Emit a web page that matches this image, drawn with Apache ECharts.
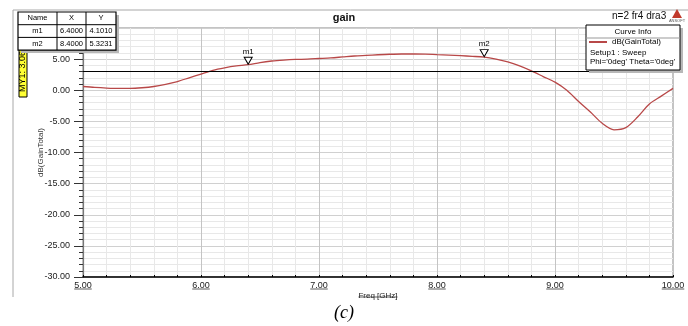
<!DOCTYPE html>
<html>
<head>
<meta charset="utf-8">
<script src="https://cdn.jsdelivr.net/npm/echarts@6/dist/echarts.min.js"></script>
<style>html,body{margin:0;padding:0;background:#fff}#main{width:688px;height:326px}</style>
</head>
<body>
<div id="main"></div>
<script>
// frequency sweep (GHz) and dB(GainTotal)
var freq = [5.0, 5.1, 5.2, 5.3, 5.4, 5.5, 5.6, 5.7, 5.8, 5.9,
            6.0, 6.1, 6.2, 6.3, 6.4, 6.5, 6.6, 6.7, 6.8, 6.9,
            7.0, 7.1, 7.2, 7.3, 7.4, 7.5, 7.6, 7.7, 7.8, 7.9,
            8.0, 8.1, 8.2, 8.3, 8.4, 8.5, 8.6, 8.7, 8.8, 8.9,
            9.0, 9.1, 9.2, 9.3, 9.4, 9.5, 9.6, 9.7, 9.8, 9.9, 10.0];
var gain = [0.6, 0.45, 0.35, 0.3, 0.3, 0.4, 0.6, 0.95, 1.4, 2.0,
            2.6, 3.2, 3.6, 3.9, 4.1, 4.45, 4.7, 4.85, 4.95, 5.0,
            5.1, 5.2, 5.35, 5.5, 5.6, 5.7, 5.78, 5.82, 5.82, 5.8,
            5.72, 5.65, 5.55, 5.45, 5.32, 5.0, 4.55, 3.9, 3.1, 2.2,
            1.3, 0.0, -1.8, -3.5, -5.3, -6.35, -6.0, -4.3, -2.2, -0.95, 0.3];

var markerNames = ['m1', 'm2'];
var markerX = [6.4, 8.4];
var markerY = [4.1010, 5.3231];
var myY1 = 3.064;
var xTicks = [5, 6, 7, 8, 9, 10];

var font = 'Liberation Sans, Arial, sans-serif';
var myChart = echarts.init(document.getElementById('main'));

var seriesData = freq.map(function (f, i) { return [f, gain[i]]; });
var markData = markerNames.map(function (n, i) {
  return { name: n, coord: [markerX[i], markerY[i]] };
});

// marker table (Name / X / Y)
var tbl = [];
var tx = 18, ty = 12, colW = [39, 29, 30], rowH = 12.7;
var tw = colW[0] + colW[1] + colW[2], th = rowH * 3;
tbl.push({ type: 'rect', z: 100, shape: { x: tx + 3, y: ty + 3, width: tw, height: th }, style: { fill: '#b8b8b8' } });
tbl.push({ type: 'rect', z: 101, shape: { x: tx, y: ty, width: tw, height: th }, style: { fill: '#fff', stroke: '#000', lineWidth: 1.2 } });
var rows = [['Name', 'X', 'Y']];
markerNames.forEach(function (n, i) { rows.push([n, markerX[i].toFixed(4), markerY[i].toFixed(4)]); });
rows.forEach(function (r, ri) {
  var cx = tx;
  r.forEach(function (c, ci) {
    tbl.push({ type: 'text', z: 102, x: cx + colW[ci] / 2, y: ty + rowH * ri + rowH / 2,
      style: { text: c, font: '7.5px ' + font, fill: '#000', align: 'center', verticalAlign: 'middle' } });
    cx += colW[ci];
  });
  if (ri > 0) tbl.push({ type: 'line', z: 102, shape: { x1: tx, y1: ty + rowH * ri, x2: tx + tw, y2: ty + rowH * ri }, style: { stroke: '#000', lineWidth: 1 } });
});
tbl.push({ type: 'line', z: 102, shape: { x1: tx + colW[0], y1: ty, x2: tx + colW[0], y2: ty + th }, style: { stroke: '#000' } });
tbl.push({ type: 'line', z: 102, shape: { x1: tx + colW[0] + colW[1], y1: ty, x2: tx + colW[0] + colW[1], y2: ty + th }, style: { stroke: '#000' } });

var graphics = [
  { type: 'line', shape: { x1: 13, y1: 10, x2: 688, y2: 10 }, style: { stroke: '#a8a8a8', lineWidth: 1 } },
  { type: 'line', shape: { x1: 13, y1: 10, x2: 13, y2: 297 }, style: { stroke: '#a8a8a8', lineWidth: 1 } },
  { type: 'text', x: 344, y: 18, style: { text: 'gain', font: 'bold 11px ' + font, fill: '#111', align: 'center', verticalAlign: 'middle' } },
  { type: 'text', x: 612, y: 16, style: { text: 'n=2 fr4 dra3', font: '10px ' + font, fill: '#111', verticalAlign: 'middle' } },
  { type: 'polygon', shape: { points: [[677, 9], [672, 18], [682, 18]] }, style: { fill: '#c0392b' } },
  { type: 'text', x: 677, y: 21, style: { text: 'ANSOFT', font: '4px ' + font, fill: '#555', align: 'center', verticalAlign: 'middle' } },
  // MY1 readout
  { type: 'rect', z: 50, shape: { x: 19, y: 42, width: 8, height: 55 }, style: { fill: '#ffff33', stroke: '#000', lineWidth: 1 } },
  { type: 'text', z: 51, x: 23, y: 69, rotation: Math.PI / 2,
    style: { text: 'MY1: 3.064', font: '9px ' + font, fill: '#000', align: 'center', verticalAlign: 'middle' } },
  { type: 'group', z: 100, children: tbl },
  // curve info box
  { type: 'rect', z: 60, shape: { x: 589, y: 28, width: 94, height: 45 }, style: { fill: '#b8b8b8' } },
  { type: 'rect', z: 61, shape: { x: 586, y: 25, width: 94, height: 45 }, style: { fill: '#fff', stroke: '#000', lineWidth: 1 } },
  { type: 'text', z: 62, x: 633, y: 32, style: { text: 'Curve Info', font: '8px ' + font, fill: '#000', align: 'center', verticalAlign: 'middle' } },
  { type: 'line', z: 62, shape: { x1: 586, y1: 38, x2: 680, y2: 38 }, style: { stroke: '#999' } },
  { type: 'text', z: 62, x: 590, y: 53, style: { text: 'Setup1 : Sweep', font: '8px ' + font, fill: '#000', verticalAlign: 'middle' } },
  { type: 'text', z: 62, x: 590, y: 62, style: { text: "Phi='0deg' Theta='0deg'", font: '8px ' + font, fill: '#000', verticalAlign: 'middle' } },
  { type: 'text', x: 344, y: 313, style: { text: '(c)', font: 'italic 18px Liberation Serif, Times New Roman, serif', fill: '#000', align: 'center', verticalAlign: 'middle' } }
];

var option = {
  animation: false,
  grid: { left: 83, right: 15, top: 28, bottom: 49, show: true, borderColor: '#888', borderWidth: 1 },
  legend: {
    data: ['dB(GainTotal)'], left: 589, top: 38, z: 70, selectedMode: false,
    icon: 'rect', itemWidth: 18, itemHeight: 2, padding: 0,
    textStyle: { fontFamily: font, fontSize: 8, color: '#000' }
  },
  graphic: graphics,
  xAxis: {
    type: 'value', min: 5, max: 10, interval: 1,
    name: 'Freq [GHz]', nameLocation: 'middle', nameGap: 15, nameMoveOverlap: false,
    nameTextStyle: { fontFamily: font, fontSize: 8, color: '#222' },
    axisLine: { onZero: false, lineStyle: { color: '#000', width: 1.5 } },
    axisTick: { show: true, inside: true, length: 2, lineStyle: { color: '#000' } },
    minorTick: { show: true, splitNumber: 5, length: 2, lineStyle: { color: '#000' } },
    axisLabel: { margin: 4, fontFamily: font, fontSize: 9, color: '#222',
      formatter: function (v) { return v.toFixed(2); } },
    splitLine: { lineStyle: { color: '#c4c4c4' } },
    minorSplitLine: { show: true, lineStyle: { color: '#e8e8e8' } }
  },
  yAxis: {
    type: 'value', min: -30, max: 10, interval: 5,
    name: 'dB(GainTotal)', nameLocation: 'middle', nameGap: 38, nameRotate: 90, nameMoveOverlap: false,
    nameTextStyle: { fontFamily: font, fontSize: 8, color: '#333' },
    axisLine: { show: true, onZero: false, lineStyle: { color: '#777', width: 1.2 } },
    axisTick: { show: true, length: 9, lineStyle: { color: '#333' } },
    minorTick: { show: true, splitNumber: 5, length: 4, lineStyle: { color: '#333' } },
    axisLabel: { margin: 13, fontFamily: font, fontSize: 9, color: '#222',
      formatter: function (v) { return v >= 10 ? '' : v.toFixed(2); } },
    splitLine: { lineStyle: { color: '#d0d0d0' } },
    minorSplitLine: { show: true, lineStyle: { color: '#e8e8e8' } }
  },
  series: [{
    name: 'dB(GainTotal)', type: 'line', data: seriesData,
    showSymbol: false, smooth: 0.3, color: '#b84848',
    lineStyle: { width: 1.3, color: '#b84848' },
    markLine: {
      silent: true, symbol: 'none', label: { show: false },
      lineStyle: { color: '#000', type: 'solid', width: 1.2 },
      data: [{ yAxis: myY1 }]
    },
    markPoint: {
      symbol: 'triangle', symbolRotate: 180, symbolSize: [8, 7], symbolOffset: [0, -4],
      itemStyle: { color: '#fff', borderColor: '#000', borderWidth: 1 },
      label: { show: true, position: 'top', distance: 1, formatter: '{b}',
        fontFamily: font, fontSize: 8, color: '#000' },
      data: markData
    }
  }]
};

myChart.setOption(option);

// HFSS underlines the x tick labels and the axis title
var ctx = document.createElement('canvas').getContext('2d');
ctx.font = '9px ' + font;
var baseY = myChart.convertToPixel({ gridIndex: 0 }, [5, -30])[1];
var lines = xTicks.map(function (t) {
  var px = myChart.convertToPixel({ gridIndex: 0 }, [t, -30])[0];
  var w = ctx.measureText(t.toFixed(2)).width;
  return { type: 'line', shape: { x1: px - w / 2, y1: baseY + 12, x2: px + w / 2, y2: baseY + 12 }, style: { stroke: '#333', lineWidth: 0.8 } };
});
ctx.font = '8px ' + font;
var cx = myChart.convertToPixel({ gridIndex: 0 }, [7.5, -30])[0];
var nw = ctx.measureText('Freq [GHz]').width;
lines.push({ type: 'line', shape: { x1: cx - nw / 2, y1: baseY + 20, x2: cx + nw / 2, y2: baseY + 20 }, style: { stroke: '#333', lineWidth: 0.8 } });
myChart.setOption({ graphic: graphics.concat(lines) });
</script>
</body>
</html>
